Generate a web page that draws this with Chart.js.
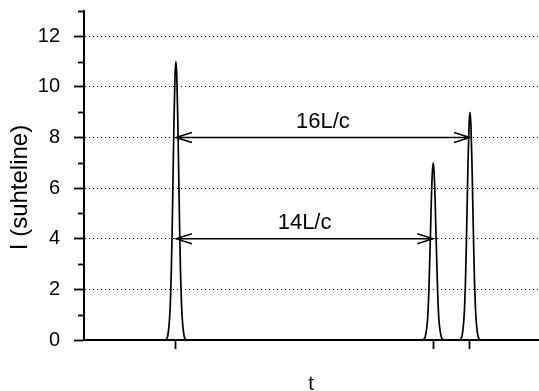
<!DOCTYPE html>
<html>
<head>
<meta charset="utf-8">
<script src="https://cdn.jsdelivr.net/npm/chart.js@4.4.0/dist/chart.umd.min.js"></script>
<style>
  body { margin: 0; background: #fff; }
</style>
</head>
<body>
<canvas id="peaksChart" width="539" height="391"></canvas>
<script>
// peak centres (in L/c) and the profile samples read around each centre
const peakTimes = [0, 14, 16];
const peakOffsets = [-0.55, -0.5, -0.45, -0.4, -0.35, -0.3, -0.25, -0.2, -0.15, -0.1, -0.05, 0, 0.05, 0.1, 0.15, 0.2, 0.25, 0.3, 0.35, 0.4, 0.45, 0.5, 0.55];
const peak1 = [0, 0.05, 0.15, 0.4, 0.8, 1.5, 2.7, 4.5, 6.7, 8.8, 10.4, 11, 10.4, 8.8, 6.7, 4.5, 2.7, 1.5, 0.8, 0.4, 0.15, 0.05, 0];
const peak2 = [0, 0.05, 0.1, 0.25, 0.5, 0.9, 1.7, 2.9, 4.2, 5.6, 6.6, 7, 6.6, 5.6, 4.2, 2.9, 1.7, 0.9, 0.5, 0.25, 0.1, 0.05, 0];
const peak3 = [0, 0.05, 0.12, 0.3, 0.65, 1.2, 2.2, 3.7, 5.5, 7.2, 8.5, 9, 8.5, 7.2, 5.5, 3.7, 2.2, 1.2, 0.65, 0.3, 0.12, 0.05, 0];
const tRange = [-5, 19.7];
const yRange = [0, 13];
const yTicks = [0, 2, 4, 6, 8, 10, 12];
const yMinorTicks = [1, 3, 5, 7, 9, 11, 13];

// intervals marked with double arrows
const intervalStarts = [0, 0];
const intervalEnds = [16, 14];
const intervalLevels = [8, 4];
const intervalLabels = ['16L/c', '14L/c'];

const FONT = 'Liberation Sans, Arial, Helvetica, sans-serif';

const points = [{ x: tRange[0], y: 0 }];
[peak1, peak2, peak3].forEach((values, i) => {
    peakOffsets.forEach((d, j) => points.push({ x: peakTimes[i] + d, y: values[j] }));
});
points.push({ x: tRange[1], y: 0 });

// minor ticks, y title and the interval arrows
const extrasPlugin = {
    id: 'extras',
    afterDraw(chart) {
        const ctx = chart.ctx;
        const xs = chart.scales.x;
        const ys = chart.scales.y;
        const area = chart.chartArea;
        ctx.save();
        ctx.strokeStyle = '#000';
        ctx.lineWidth = 1.8;
        yMinorTicks.forEach(v => {
            const py = Math.round(ys.getPixelForValue(v)) + 0.5;
            ctx.beginPath();
            ctx.moveTo(area.left - 6, py);
            ctx.lineTo(area.left, py);
            ctx.stroke();
        });

        ctx.lineWidth = 1.4;
        intervalLabels.forEach((label, i) => {
            const x1 = xs.getPixelForValue(intervalStarts[i]);
            const x2 = xs.getPixelForValue(intervalEnds[i]);
            const py = ys.getPixelForValue(intervalLevels[i]);
            ctx.beginPath();
            ctx.moveTo(x1, py);
            ctx.lineTo(x2, py);
            ctx.moveTo(x1 + 16, py - 5);
            ctx.lineTo(x1, py);
            ctx.lineTo(x1 + 16, py + 5);
            ctx.moveTo(x2 - 16, py - 5);
            ctx.lineTo(x2, py);
            ctx.lineTo(x2 - 16, py + 5);
            ctx.stroke();

            ctx.fillStyle = '#000';
            ctx.font = '22px ' + FONT;
            ctx.textAlign = 'center';
            ctx.textBaseline = 'alphabetic';
            ctx.fillText(label, (x1 + x2) / 2, py - 10);
        });

        ctx.translate(20, (area.top + area.bottom) / 2 + 12);
        ctx.rotate(-Math.PI / 2);
        ctx.font = '24px ' + FONT;
        ctx.textAlign = 'center';
        ctx.textBaseline = 'middle';
        ctx.fillText('I (suhteline)', 0, 0);
        ctx.restore();
    }
};

const ctx = document.getElementById('peaksChart').getContext('2d');
const peaksChart = new Chart(ctx, {
    type: 'line',
    data: {
        datasets: [{
            data: points,
            borderColor: '#000',
            borderWidth: 1.7,
            pointRadius: 0,
            cubicInterpolationMode: 'monotone',
            fill: false
        }]
    },
    options: {
        responsive: false,
        animation: false,
        layout: { padding: { top: 11, right: 1, left: 0, bottom: 0 } },
        plugins: {
            legend: { display: false },
            tooltip: { enabled: false }
        },
        scales: {
            x: {
                type: 'linear',
                min: tRange[0],
                max: tRange[1],
                afterBuildTicks: axis => { axis.ticks = peakTimes.map(v => ({ value: v })); },
                afterFit: axis => {
                    axis.height = 51;
                    axis.paddingLeft = 0;
                    axis.paddingRight = 0;
                },
                ticks: { display: false },
                grid: {
                    drawOnChartArea: false,
                    tickLength: 9,
                    tickWidth: 1.8,
                    tickColor: '#000'
                },
                border: { color: '#000', width: 2 },
                title: {
                    display: true,
                    text: 't',
                    color: '#000',
                    font: { family: FONT, size: 20, lineHeight: 1 },
                    padding: { top: 0, bottom: -3 }
                }
            },
            y: {
                min: yRange[0],
                max: yRange[1],
                afterBuildTicks: axis => { axis.ticks = yTicks.map(v => ({ value: v })); },
                afterFit: axis => {
                    axis.width = 84;
                    axis.paddingTop = 0;
                    axis.paddingBottom = 0;
                },
                ticks: {
                    color: '#000',
                    padding: 14,
                    font: { family: FONT, size: 20 }
                },
                grid: {
                    color: '#000',
                    lineWidth: 1,
                    tickLength: 10,
                    tickWidth: 1.8,
                    tickColor: '#000'
                },
                border: { color: '#000', width: 2, dash: [1, 3] }
            }
        }
    },
    plugins: [extrasPlugin]
});
</script>
</body>
</html>
